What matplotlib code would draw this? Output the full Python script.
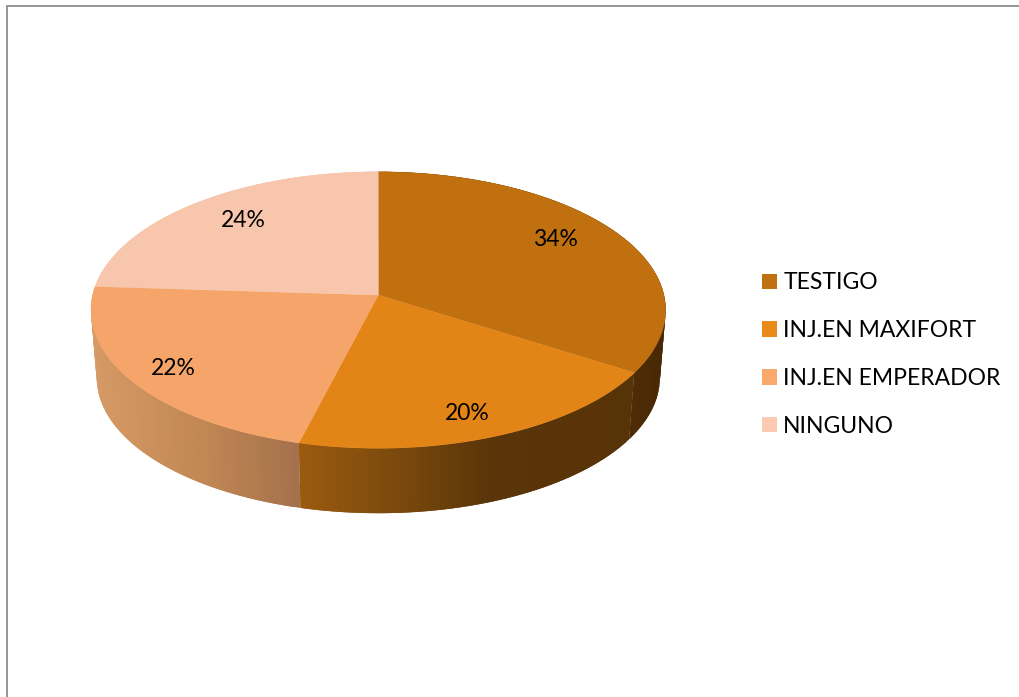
import numpy as np
import matplotlib
matplotlib.use("Agg")
import matplotlib.pyplot as plt
from matplotlib.colors import to_rgb
from matplotlib.patches import Patch

# =========================================================
# DATA
# =========================================================

categories = ["TESTIGO", "INJ.EN MAXIFORT", "INJ.EN EMPERADOR", "NINGUNO"]
values = [34, 20, 22, 24]

# =========================================================
# STYLE
# =========================================================

top_colors = ["#C0700F", "#E38417", "#F5A56A", "#F7C6AC"]
legend_colors = ["#C1700F", "#EA8A1A", "#FAA96D", "#FCCAB1"]
# wall gradient: list of (pixel x, colour) per slice
wall_stops = [
    [(630, "#4F2D06"), (670, "#472804")],
    [(295, "#9C5B0E"), (400, "#7A490D"), (490, "#5A3509"), (640, "#573308")],
    [(90, "#D59A66"), (200, "#C28854"), (300, "#A4704C")],
    [(90, "#F7C6AC"), (380, "#F7C6AC")],
]
label_offsets = [(177, -56), (89, 118), (-205, 73), (-135, -75)]

cx, cy = 378.3, 295.0     # apex of the pie on the page
a, b, k = 285.6, 136.6, 0.1087   # perspective of the top face
depth, shrink = 68.0, 0.98       # bottom rim of the wall


def project(ang, r=1.0):
    # ang is clockwise from 12 o'clock
    u = r * np.sin(ang)
    v = r * np.cos(ang)
    w = 1 + k * v
    return a * u / w, b * v / w


def wall_color(stops, x):
    xs = [s[0] for s in stops]
    rgb = [to_rgb(s[1]) for s in stops]
    return [np.interp(x, xs, [c[i] for c in rgb]) for i in range(3)]


plt.rcParams["font.family"] = ["Lato", "DejaVu Sans"]

fig = plt.figure(figsize=(10.2, 6.97), dpi=100)
ax = fig.add_axes([0, 0, 1, 1])
ax.set_xlim(0, 1020)
ax.set_ylim(697, 0)
ax.axis("off")

# frame of the pasted chart, only top and left show
ax.plot([7.5, 7.5, 1020], [697, 5.5, 5.5], color="#8E8E8E", lw=1.3, solid_joinstyle="miter")

# =========================================================
# PIE
# =========================================================

edges = np.cumsum([0] + values) / sum(values) * 2 * np.pi

# walls first, the top face covers whatever is at the back.
# the slice at the back goes first so it can't stick out over the others
for i in [3, 0, 1, 2]:
    ang = np.linspace(edges[i], edges[i + 1], int(values[i] * 3) + 3)
    X, Y = project(ang)
    for j in range(len(ang) - 1):
        # each facet runs over the next one, that hides the seams
        e = min(j + 3, len(ang))
        xs = np.r_[cx + X[j:e], cx + shrink * X[j:e][::-1]]
        ys = np.r_[cy - Y[j:e], cy - shrink * Y[j:e][::-1] + depth]
        col = wall_color(wall_stops[i], (X[j] + X[j + 1]) / 2 + cx)
        ax.fill(xs, ys, color=col, lw=0, zorder=2)

for i in range(len(values)):
    ang = np.linspace(edges[i], edges[i + 1], 200)
    X, Y = project(ang)
    ax.fill(np.r_[cx, cx + X], np.r_[cy, cy - Y], color=top_colors[i], lw=0.3, zorder=3)

for val, off in zip(values, label_offsets):
    ax.text(378 + off[0], 295.5 + off[1], f"{val}%", fontsize=16.5, color="black",
            ha="center", va="center", zorder=4)

# =========================================================
# LEGEND
# =========================================================

handles = [Patch(facecolor=c, edgecolor="none") for c in legend_colors]
ax.legend(handles, categories, loc="center left", bbox_to_anchor=(762, 354.5),
          bbox_transform=ax.transData, frameon=False, fontsize=16.5,
          handlelength=0.65, handleheight=0.65, handletextpad=0.28,
          labelspacing=1.17, borderpad=0, borderaxespad=0)

fig.savefig("out.png", dpi=100)
